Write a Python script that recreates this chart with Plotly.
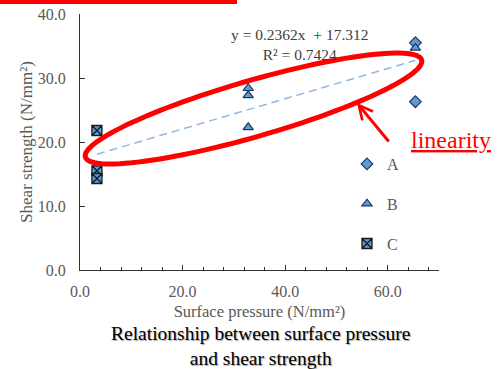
import numpy as np
import plotly.graph_objects as go

# ---- data ----
a_x = [65.4, 65.4]
a_y = [35.5, 26.3]
b_x = [32.8, 32.8, 32.8, 65.4]
b_y = [28.4, 27.3, 22.3, 34.7]
c_x = [3.3, 3.3, 3.3]
c_y = [21.8, 15.5, 14.3]
series_names = ["A", "B", "C"]
SLOPE = 0.2362
INTERCEPT = 17.312
R2 = 0.7424
x_ticks = [0, 20, 40, 60]
y_ticks = [0, 10, 20, 30, 40]

W, H = 498, 369
ML, MR, MT, MB = 80, 59, 14, 99
PW, PH = W - ML - MR, H - MT - MB

def px2paper(px, py):
    return (px - ML) / PW, (H - MB - py) / PH

FONT = "Liberation Serif"
GRAY = "#595959"
FILL = "#5b9bd5"
EDGE = "#1f3864"

fig = go.Figure()
fig.add_trace(go.Scatter(x=a_x, y=a_y, mode="markers", name=series_names[0], legendgroup="a",
                         marker=dict(symbol="diamond", size=9, color=FILL, line=dict(color=EDGE, width=1.2))))
fig.add_trace(go.Scatter(x=b_x, y=b_y, mode="markers", name=series_names[1], legendgroup="b",
                         marker=dict(symbol="triangle-up", size=9, color=FILL, line=dict(color=EDGE, width=1.2))))
fig.add_trace(go.Scatter(x=c_x, y=c_y, mode="markers", name=series_names[2], legendgroup="c",
                         marker=dict(symbol="square-x", size=10, color=FILL, line=dict(color="#1a1a1a", width=1.3))))

all_x = np.array(a_x + b_x + c_x)
tx = np.array([all_x.min(), all_x.max()])
fig.add_trace(go.Scatter(x=tx, y=SLOPE * tx + INTERCEPT, mode="lines", showlegend=False,
                         line=dict(color="#8fb8e0", width=1.5, dash="8px,5px"), hoverinfo="skip"))

# red ellipse (decoration) in pixel space -> paper
cx, cy, ra, rb, ang = 253.5, 108.5, 175, 28, np.deg2rad(16.1)
t = np.linspace(0, 2 * np.pi, 120)
ex = cx + ra * np.cos(t) * np.cos(ang) + rb * np.sin(t) * np.sin(ang)
ey = cy - ra * np.cos(t) * np.sin(ang) + rb * np.sin(t) * np.cos(ang)
pts = [px2paper(a, b) for a, b in zip(ex, ey)]
path = "M " + " L ".join(f"{p[0]:.4f},{p[1]:.4f}" for p in pts) + " Z"

x0, y0 = px2paper(0, 4)
x1, y1 = px2paper(237, 0)
shapes = [
    dict(type="path", path=path, xref="paper", yref="paper", line=dict(color="#ff0000", width=5)),
    dict(type="rect", xref="paper", yref="paper", x0=x0, x1=x1, y0=y0, y1=y1,
         fillcolor="#ff0000", line=dict(width=0)),
]

hx, hy = px2paper(357, 103)
eqx, eqy = px2paper(300, 44)
lx, ly = px2paper(451, 140)
tx_, ty_ = px2paper(260, 346)

def ann(x, y, text, font):
    return dict(x=x, y=y, xref="paper", yref="paper", showarrow=False, text=text,
                xanchor="center", yanchor="middle", font=font)

annotations = [
    dict(x=hx, y=hy, xref="paper", yref="paper", ax=33, ay=40, text="", showarrow=True,
         arrowhead=5, arrowwidth=3, arrowsize=0.9, arrowcolor="#ff0000"),
    ann(eqx, eqy, f"y = {SLOPE}x  + {INTERCEPT}<br>R² = {R2}", dict(family=FONT, size=15.5, color="#404040")),
    ann(lx, ly, "<u>linearity</u>", dict(family=FONT, size=24, color="#ff0000")),
    ann(tx_, ty_, "Relationship between surface pressure<br>and shear strength",
        dict(family=FONT, size=19.5, color="#000000", shadow="1px 1px 1px #aaaaaa")),
]

lgx, _ = px2paper(347, 0)
_, lgy = px2paper(0, 147)

fig.update_layout(
    width=W, height=H,
    margin=dict(l=ML, r=MR, t=MT, b=MB, autoexpand=False),
    paper_bgcolor="white", plot_bgcolor="white",
    font=dict(family=FONT, color=GRAY),
    shapes=shapes, annotations=annotations,
    legend=dict(x=lgx, y=lgy, xanchor="left", yanchor="top", bgcolor="rgba(0,0,0,0)",
                font=dict(family=FONT, size=16, color=GRAY), tracegroupgap=16, itemwidth=30),
    xaxis=dict(range=[0, 70], tickvals=x_ticks, tickformat=".1f", ticks="inside", ticklen=5,
               tickcolor="#333", showline=True, linecolor="#333", linewidth=1, showgrid=False,
               zeroline=False, tickfont=dict(family=FONT, size=16, color=GRAY), ticklabelstandoff=7,
               minor=dict(dtick=4, ticks="inside", ticklen=3, tickcolor="#333", showgrid=False),
               title=dict(text="Surface pressure (N/mm²)", font=dict(family=FONT, size=16.5, color=GRAY), standoff=6)),
    yaxis=dict(range=[0, 40], tickvals=y_ticks, tickformat=".1f", ticks="inside", ticklen=5,
               tickcolor="#333", showline=True, linecolor="#333", linewidth=1, showgrid=False,
               zeroline=False, tickfont=dict(family=FONT, size=16, color=GRAY), ticklabelstandoff=10,
               title=dict(text="Shear strength (N/mm²)", font=dict(family=FONT, size=17, color=GRAY), standoff=0)),
)

fig.write_html("out.html", config={"displayModeBar": False},
               post_script="document.body.style.margin='0';")
